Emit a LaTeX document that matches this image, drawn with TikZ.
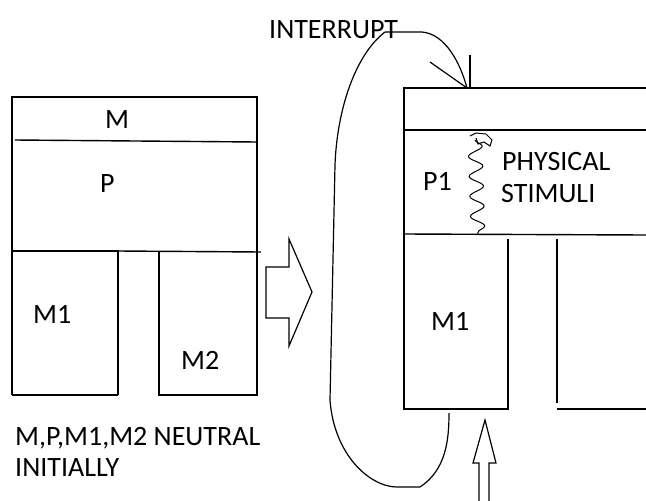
\documentclass[tikz,border=0pt]{standalone}
\usepackage{fontspec}
\setmainfont{Carlito}
\usetikzlibrary{positioning,calc,decorations.pathmorphing}

\begin{document}
\begin{tikzpicture}[
    x=1pt, y=-1pt,
    every node/.style={font=\fontsize{28}{31}\selectfont, inner sep=0pt},
    wall/.style={draw, line width=1.4pt},
    sketch/.style={draw, line width=1.2pt},
    label/.style={anchor=base west}
]
    \useasboundingbox (0,0) rectangle (646,501);

    % left block
    \draw[wall] (118,395) -- (118,251) -- (12,251) -- (12,97) -- (257,97) -- (257,395) -- (159,395) -- (159,252);
    \draw[wall] (12,395) -- (118,395);
    \draw[wall] (12,251) -- (12,395);
    \draw[wall] (15,140) -- (257,142);
    \draw[wall] (118,251) -- (261,252);

    \node[label] (M) at (105,128) {M};
    \node[label] (P) at (100,192) {P};
    \node[label] (M1) at (33,323) {M1};
    \node[label] (M2) at (181,369) {M2};

    % block arrow between the two
    \draw[sketch] (266,267) -- (289,267) -- (289,239) -- (312,292) -- (289,346) -- (289,318) -- (266,318) -- cycle;

    % right block
    \draw[wall] (646,88) -- (404,88) -- (404,409) -- (508,409) -- (508,239);
    \draw[wall] (404,130) -- (646,130);
    \draw[wall] (404,234) -- (646,235);
    \draw[wall] (557,239) -- (557,403);
    \draw[wall] (557,409) -- (646,409);

    \node[label] (P1) at (423,190) {P1};
    \node[label] (PHY) at (502,170) {PHYSICAL};
    \node[label] (STI) at (501,202) {STIMULI};
    \node[label] (M1r) at (431,330) {M1};

    % stimulus squiggle
    \coordinate (wtop) at (475,140);
    \coordinate (wbot) at (478,234);
    \draw[sketch, line width=1pt, decorate, decoration={snake, amplitude=7pt, segment length=20pt}] (wtop) -- (wbot);
    \draw[sketch, line width=1pt] (470,136) -- (476,133) -- (486,134) -- (492,140) -- (490,146) -- (484,142) -- (478,144) -- (476,138);

    % interrupt
    \node[label] (intr) at (269,38) {INTERRUPT};
    \coordinate (knee) at (385,32);
    \coordinate (hit) at (467,88);
    \coordinate (foot) at (449,413);
    \draw[sketch] (knee) -- (422,32) .. controls (445,34) and (460,62) .. (hit);
    \draw[sketch] (430,62) -- (hit);
    \draw[wall] (470,55) -- (470,88);
    \draw[sketch] (knee) .. controls (355,55) and (337,110) .. (335,165) -- (330,400)
        .. controls (334,455) and (370,487) .. (397,487) -- (420,487)
        .. controls (446,470) and (449,440) .. (foot);

    % input arrow from below
    \draw[sketch] (479,501) -- (479,463) -- (473,463) -- (485,420) -- (496,463) -- (489,463) -- (489,501);

    % note
    \node[label] (note1) at (15,445) {M,P,M1,M2 NEUTRAL};
    \node[label] (note2) at (15,476) {INITIALLY};
\end{tikzpicture}
\end{document}
